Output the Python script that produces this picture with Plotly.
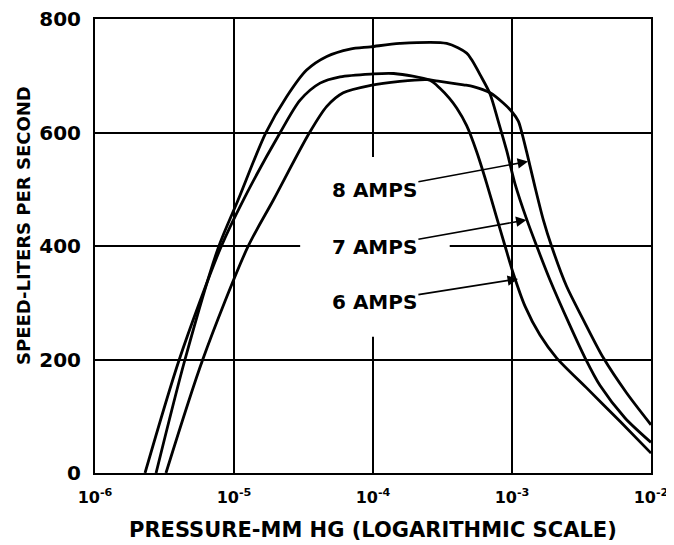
import plotly.graph_objects as go

# pressure (mm Hg) and pumping speed (liters per second)
p_6a = [2.29e-6, 4.04e-6, 8.02e-6, 1.167e-5, 2.14e-5, 2.99e-5, 4.16e-5, 5.79e-5,
        9.62e-5, 1.41e-4, 2.57e-4, 3.03e-4, 3.55e-4, 4.00e-4, 4.72e-4, 5.57e-4,
        6.58e-4, 7.76e-4, 8.91e-4, 1.02e-3, 1.24e-3, 1.59e-3, 2.09e-3, 3.44e-3,
        5.98e-3, 1.0e-2]
s_6a = [0, 200, 397, 481, 599, 657, 687, 698,
        703, 704, 692, 678, 660, 643, 612, 566,
        510, 450, 400, 352, 294, 243, 203, 150,
        91, 35]

p_7a = [2.75e-6, 4.44e-6, 7.71e-6, 1.07e-5, 1.69e-5, 2.39e-5, 3.33e-5, 4.65e-5,
        6.84e-5, 9.62e-5, 1.56e-4, 3.39e-4, 4.72e-4, 5.13e-4, 5.89e-4, 6.95e-4,
        7.96e-4, 9.16e-4, 1.05e-3, 1.28e-3, 1.51e-3, 1.87e-3, 2.61e-3, 3.35e-3,
        4.30e-3, 6.50e-3, 1.0e-2]
s_7a = [0, 200, 397, 481, 599, 663, 710, 734,
        747, 751, 757, 757, 740, 728, 702, 668,
        620, 568, 510, 446, 399, 341, 260, 203,
        154, 97, 54]

p_8a = [3.24e-6, 5.96e-6, 1.25e-5, 1.92e-5, 3.48e-5, 4.65e-5, 6.11e-5, 9.62e-5,
        1.56e-4, 2.43e-4, 3.03e-4, 4.47e-4, 5.27e-4, 6.95e-4, 8.65e-4, 9.95e-4,
        1.11e-3, 1.17e-3, 1.28e-3, 1.46e-3, 1.68e-3, 1.93e-3, 2.47e-3, 3.26e-3,
        4.54e-3, 6.68e-3, 1.0e-2]
s_8a = [0, 200, 397, 481, 599, 646, 670, 683,
        690, 693, 690, 684, 681, 670, 652, 637,
        620, 602, 564, 505, 446, 399, 329, 270,
        203, 141, 85]

x_ticks = [1e-6, 1e-5, 1e-4, 1e-3, 1e-2]
x_tick_text = ['10<sup>-6</sup>', '10<sup>-5</sup>', '10<sup>-4</sup>',
               '10<sup>-3</sup>', '10<sup>-2</sup>']
y_ticks = [0, 200, 400, 600, 800]

# label text, label centre (log10 p, speed), arrow tip (log10 p, speed)
labels = ['8 AMPS', '7 AMPS', '6 AMPS']
label_x = [-3.99, -3.99, -3.99]
label_y = [499, 398, 302]
tip_x = [-2.885, -2.896, -2.957]
tip_y = [549, 446, 342]

FONT = 'DejaVu Sans'
ink = 'black'

fig = go.Figure()
for p, s, name in [(p_6a, s_6a, '6 AMPS'), (p_7a, s_7a, '7 AMPS'), (p_8a, s_8a, '8 AMPS')]:
    fig.add_trace(go.Scatter(x=p, y=s, mode='lines', name=name, showlegend=False,
                             line=dict(color=ink, width=2.8, shape='spline', smoothing=0.8)))

# white patch that breaks the grid behind the labels (no curve passes there)
fig.add_shape(type='rect', xref='x domain', yref='y domain',
              x0=0.369, x1=0.638, y0=0.30, y1=0.696,
              fillcolor='white', line=dict(width=0), layer='above')

for txt, lx, ly, tx, ty in zip(labels, label_x, label_y, tip_x, tip_y):
    fig.add_annotation(x=tx, y=ty, ax=lx, ay=ly, axref='x', ayref='y',
                       text=txt, showarrow=True, arrowhead=2, arrowsize=1.3,
                       arrowwidth=1.6, arrowcolor=ink, standoff=0,
                       font=dict(family=FONT, size=20, color=ink, weight='bold'))

fig.add_annotation(text='PRESSURE-MM HG (LOGARITHMIC SCALE)', xref='paper', yref='paper',
                   x=0.5, y=0, xanchor='center', yanchor='top', yshift=-43, showarrow=False,
                   font=dict(family=FONT, size=21, color=ink, weight='bold'))
fig.add_annotation(text='SPEED-LITERS PER SECOND', xref='paper', yref='paper',
                   x=0, y=0.544, xanchor='center', yanchor='middle', xshift=-72,
                   textangle=-90, showarrow=False,
                   font=dict(family=FONT, size=18, color=ink, weight='bold'))

axis_style = dict(showline=True, linecolor=ink, linewidth=2, mirror=True,
                  showgrid=True, gridcolor=ink, gridwidth=1.5, zeroline=False,
                  ticks='', automargin=False, ticklabeloverflow='allow')

fig.update_xaxes(type='log', range=[-6, -2], tickvals=x_ticks, ticktext=x_tick_text,
                 ticklabelstandoff=9,
                 tickfont=dict(family=FONT, size=16, color=ink, weight='bold'), **axis_style)
fig.update_yaxes(range=[0, 800], tickvals=y_ticks, ticklabelstandoff=8,
                 tickfont=dict(family=FONT, size=20, color=ink, weight='bold'), **axis_style)

# the page adds an 8px body margin, so the figure is 8px smaller and shifted
fig.update_layout(width=666, height=537, margin=dict(l=87, r=23, t=11, b=72),
                  paper_bgcolor='white', plot_bgcolor='white',
                  font=dict(family=FONT, color=ink))

fig.write_html('out.html')
